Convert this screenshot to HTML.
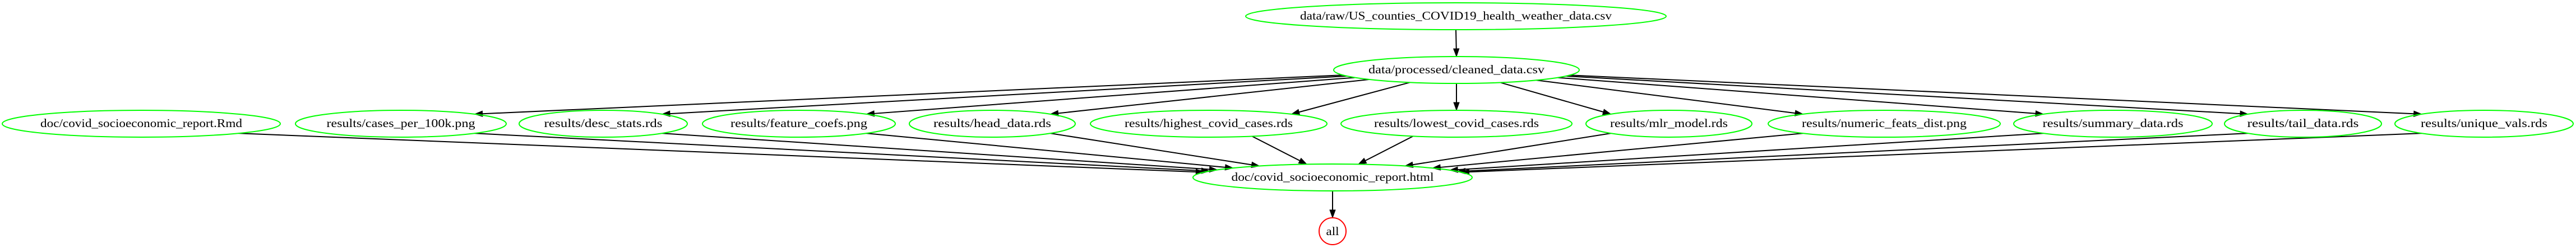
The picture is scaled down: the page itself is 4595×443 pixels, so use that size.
<!DOCTYPE html>
<html><head><meta charset="utf-8"><style>
html,body{margin:0;padding:0;background:#fff;}
svg{display:block;}
text{font-family:"Liberation Serif",serif;font-size:21px;fill:#000;}
</style></head><body>
<svg id="g" width="4595" height="443" viewBox="0 0 4595 443" xmlns="http://www.w3.org/2000/svg">
<g id="edges" stroke="#000" stroke-width="2" fill="none"></g>
<g id="heads" fill="#000" stroke="#000" stroke-width="1"></g>
<g id="nodes" fill="none" stroke="#00ff00" stroke-width="2">
<ellipse cx="2597" cy="29" rx="375" ry="24"/>
<ellipse cx="2598" cy="125" rx="219" ry="24"/>
<ellipse cx="252" cy="221" rx="248" ry="24"/>
<ellipse cx="715" cy="221" rx="188" ry="24"/>
<ellipse cx="1076" cy="221" rx="150" ry="24"/>
<ellipse cx="1425" cy="221" rx="172" ry="24"/>
<ellipse cx="1770" cy="221" rx="148" ry="24"/>
<ellipse cx="2156" cy="221" rx="211" ry="24"/>
<ellipse cx="2598" cy="221" rx="206" ry="24"/>
<ellipse cx="2977" cy="221" rx="148" ry="24"/>
<ellipse cx="3361" cy="221" rx="207" ry="24"/>
<ellipse cx="3769" cy="221" rx="177" ry="24"/>
<ellipse cx="4108" cy="221" rx="140" ry="24"/>
<ellipse cx="4431" cy="221" rx="159" ry="24"/>
<ellipse cx="2377" cy="317" rx="249" ry="24"/>
<ellipse cx="2377" cy="413" rx="24" ry="24" stroke="#ff0000"/>
</g>
<g text-anchor="middle">
<text x="2597" y="35" textLength="556" lengthAdjust="spacingAndGlyphs">data/raw/US_counties_COVID19_health_weather_data.csv</text>
<text x="2598" y="131" textLength="314" lengthAdjust="spacingAndGlyphs">data/processed/cleaned_data.csv</text>
<text x="252" y="227" textLength="360" lengthAdjust="spacingAndGlyphs">doc/covid_socioeconomic_report.Rmd</text>
<text x="715" y="227" textLength="265" lengthAdjust="spacingAndGlyphs">results/cases_per_100k.png</text>
<text x="1076" y="227" textLength="211" lengthAdjust="spacingAndGlyphs">results/desc_stats.rds</text>
<text x="1425" y="227" textLength="244" lengthAdjust="spacingAndGlyphs">results/feature_coefs.png</text>
<text x="1770" y="227" textLength="210" lengthAdjust="spacingAndGlyphs">results/head_data.rds</text>
<text x="2156" y="227" textLength="300" lengthAdjust="spacingAndGlyphs">results/highest_covid_cases.rds</text>
<text x="2598" y="227" textLength="294" lengthAdjust="spacingAndGlyphs">results/lowest_covid_cases.rds</text>
<text x="2977" y="227" textLength="210" lengthAdjust="spacingAndGlyphs">results/mlr_model.rds</text>
<text x="3361" y="227" textLength="294" lengthAdjust="spacingAndGlyphs">results/numeric_feats_dist.png</text>
<text x="3769" y="227" textLength="251" lengthAdjust="spacingAndGlyphs">results/summary_data.rds</text>
<text x="4108" y="227" textLength="199" lengthAdjust="spacingAndGlyphs">results/tail_data.rds</text>
<text x="4431" y="227" textLength="226" lengthAdjust="spacingAndGlyphs">results/unique_vals.rds</text>
<text x="2377" y="323" textLength="361" lengthAdjust="spacingAndGlyphs">doc/covid_socioeconomic_report.html</text>
<text x="2377" y="420" textLength="23" lengthAdjust="spacingAndGlyphs">all</text>
</g>
</svg>
<script>
(function(){
var N={top:[2597,29,375,24],cl:[2598,125,219,24],rmd:[252,221,248,24],cases:[715,221,188,24],desc:[1076,221,150,24],feat:[1425,221,172,24],head:[1770,221,148,24],high:[2156,221,211,24],low:[2598,221,206,24],mlr:[2977,221,148,24],num:[3361,221,207,24],sum:[3769,221,177,24],tail:[4108,221,140,24],uniq:[4431,221,159,24],rep:[2377,317,249,24],all:[2377,413,24,24]};
function bp(n,dx,dy){var a=n[2],b=n[3];var t=1/Math.sqrt(dx*dx/(a*a)+dy*dy/(b*b));return [n[0]+dx*t,n[1]+dy*t];}
function bottom(n,off,sign){return [n[0]+off,n[1]+sign*n[3]*Math.sqrt(Math.max(0,1-off*off/(n[2]*n[2])))];}
var E=[["top","cl"],["cl","cases"],["cl","desc"],["cl","feat"],["cl","head"],["cl","high"],["cl","low"],["cl","mlr"],["cl","num"],["cl","sum"],["cl","tail"],["cl","uniq"],["rmd","rep"],["cases","rep"],["desc","rep"],["feat","rep"],["head","rep"],["high","rep"],["low","rep"],["mlr","rep"],["num","rep"],["sum","rep"],["tail","rep"],["uniq","rep"],["rep","all"]];
var eg=document.getElementById('edges'),hg=document.getElementById('heads'),ns='http://www.w3.org/2000/svg';
E.forEach(function(e){var s=N[e[0]],t=N[e[1]],sp,tp;
 if(e[0]=="top"||e[1]=="all"){sp=bottom(s,0,1);tp=bottom(t,0,-1);}
 else if(e[0]=="cl"){
   var o=Math.max(-0.7*t[2],Math.min(0.7*t[2],(s[0]-t[0])*0.35));
   tp=bottom(t,o,-1);
   sp=bp(s,tp[0]-s[0],tp[1]-s[1]);
 } else {
   var off=Math.max(-0.7*s[2],Math.min(0.7*s[2],(t[0]-s[0])*0.35));
   sp=bottom(s,off,1);
   tp=bp(t,sp[0]-t[0],(sp[1]-t[1]));
 }
 var dx=tp[0]-sp[0],dy=tp[1]-sp[1],L=Math.sqrt(dx*dx+dy*dy),ux=dx/L,uy=dy/L,al=14;
 var bx=tp[0]-ux*al,by=tp[1]-uy*al;
 var l=document.createElementNS(ns,'line');l.setAttribute('x1',sp[0]);l.setAttribute('y1',sp[1]);l.setAttribute('x2',bx);l.setAttribute('y2',by);eg.appendChild(l);
 var p=document.createElementNS(ns,'polygon');var w=5;
 p.setAttribute('points',tp[0]+','+tp[1]+' '+(bx-uy*w)+','+(by+ux*w)+' '+(bx+uy*w)+','+(by-ux*w));hg.appendChild(p);
});
})();
</script>
</body></html>
